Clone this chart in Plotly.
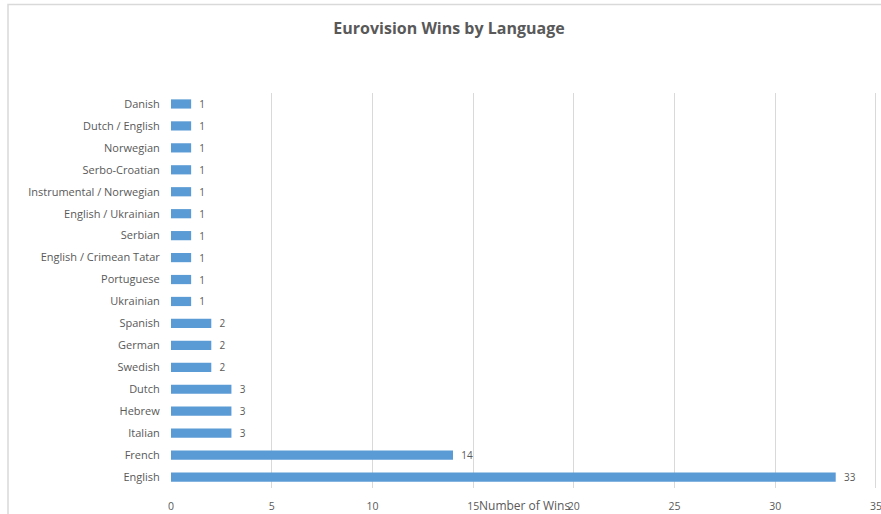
import plotly.graph_objects as go

languages = ["Danish", "Dutch / English", "Norwegian", "Serbo-Croatian",
             "Instrumental / Norwegian", "English / Ukrainian", "Serbian",
             "English / Crimean Tatar", "Portuguese", "Ukrainian", "Spanish",
             "German", "Swedish", "Dutch", "Hebrew", "Italian", "French", "English"]
wins = [1, 1, 1, 1, 1, 1, 1, 1, 1, 1, 2, 2, 2, 3, 3, 3, 14, 33]
x_ticks = [0, 5, 10, 15, 20, 25, 30, 35]

gray = "#595959"
fig = go.Figure(go.Bar(
    x=wins, y=languages, orientation="h",
    marker=dict(color="#5b9bd5", line=dict(width=0)),
    text=["\u00a0\u00a0" + str(v) for v in wins], textposition="outside",
    constraintext="none",
    textfont=dict(size=10, color=gray, family="Open Sans"),
    cliponaxis=False,
))

fig.update_layout(
    width=881, height=514,
    margin=dict(l=171, r=4, t=93, b=26),
    paper_bgcolor="white", plot_bgcolor="white",
    font=dict(family="Open Sans", size=10, color=gray),
    bargap=0.58,
    showlegend=False,
    title=dict(text="<b>Eurovision Wins by Language</b>", x=449/881, xanchor="center",
               xref="container", y=1-28/514, yref="container", yanchor="middle",
               font=dict(size=16, color=gray, family="Open Sans")),
    xaxis=dict(range=[0, 35.05], tickvals=x_ticks, showgrid=True, gridcolor="#d9d9d9",
               gridwidth=1, zeroline=False, showline=False, ticks="outside",
               ticklen=8, tickcolor="rgba(0,0,0,0)", automargin=False,
               ticklabeloverflow="allow",
               tickfont=dict(size=10.5, color=gray)),
    yaxis=dict(autorange="reversed", showgrid=False, zeroline=False, showline=False,
               ticks="outside", ticklen=8, tickcolor="rgba(0,0,0,0)", automargin=False,
               tickfont=dict(size=11, color=gray)),
)

fig.add_annotation(text="Number of Wins", xref="paper", yref="paper", x=0.5, y=0,
                   yshift=-17, showarrow=False, xanchor="center", yanchor="middle",
                   font=dict(size=12, color=gray))

plot_h = 514 - 93 - 26
plot_w = 881 - 171 - 4
fig.add_shape(type="rect", xref="paper", yref="paper",
              x0=-163/plot_w, x1=1.2, y0=-0.5, y1=(488 - 4.5) / plot_h,
              line=dict(color="#d9d9d9", width=1.5), layer="below")

fig.write_html("out.html")
